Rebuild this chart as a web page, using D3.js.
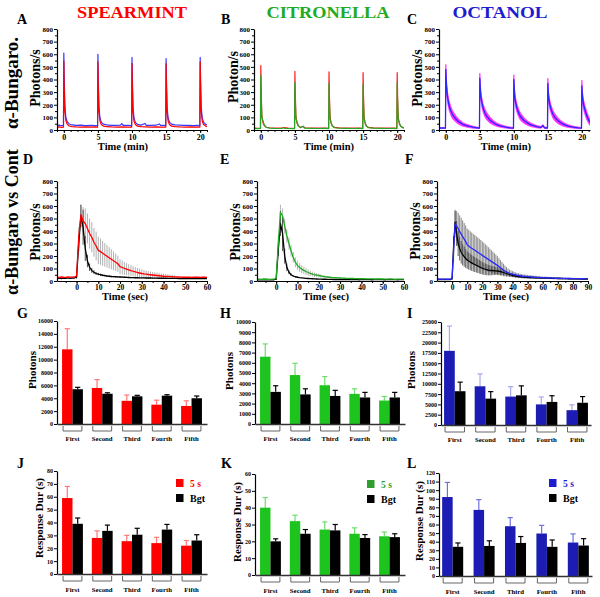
<!DOCTYPE html>
<html><head><meta charset="utf-8">
<script src="https://cdn.jsdelivr.net/npm/d3@7"></script>
<style>body{margin:0;background:#fff}</style>
</head><body><svg id="chart" width="600" height="597"></svg>
<script>
// ---------------- DATA ----------------
// Row 1 traces: [time (min), photons/s]
const aBlue=[[-1,35],[-0.7,38],[-0.4,34],[-0.05,36],[0,610],[0.06,420],[0.15,200],[0.3,100],[0.5,65],[0.8,48],[1.2,40],[1.8,36],[2.5,38],[3.2,35],[4,37],[4.6,34],[4.95,36],[5,600],[5.06,410],[5.15,190],[5.3,95],[5.5,62],[5.8,46],[6.3,40],[7,37],[7.6,36],[8.3,38],[8.5,50],[8.7,36],[9.4,37],[9.95,35],[10,575],[10.06,400],[10.15,180],[10.3,92],[10.5,60],[10.8,45],[11.3,39],[11.9,52],[12.1,37],[12.8,36],[13.5,38],[14,48],[14.2,36],[14.6,37],[14.95,35],[15,565],[15.06,390],[15.15,180],[15.3,95],[15.5,62],[15.8,47],[16.3,40],[17,38],[17.6,36],[18.3,37],[19,35],[19.5,36],[19.95,35],[20,575],[20.06,400],[20.15,185],[20.3,95],[20.5,62],[20.8,45],[21,40]];
const aRed=[[-1,22],[-0.6,24],[-0.3,21],[-0.05,23],[0,545],[0.06,330],[0.15,150],[0.3,75],[0.5,45],[0.8,32],[1.2,27],[1.8,24],[2.5,23],[3.2,25],[4,22],[4.6,24],[4.95,23],[5,540],[5.06,325],[5.15,145],[5.3,72],[5.5,44],[5.8,31],[6.3,26],[7,24],[7.8,23],[8.6,25],[9.4,22],[9.95,23],[10,525],[10.06,315],[10.15,140],[10.3,70],[10.5,43],[10.8,30],[11.3,26],[12,24],[12.8,22],[13.6,24],[14.4,23],[14.95,22],[15,525],[15.06,315],[15.15,140],[15.3,70],[15.5,43],[15.8,30],[16.3,26],[17,24],[17.8,23],[18.6,24],[19.4,22],[19.95,23],[20,540],[20.06,320],[20.15,145],[20.3,72],[20.5,44],[20.8,31],[21,27]];
const bRed=[[-1,16],[-0.5,14],[-0.05,15],[0,510],[0.06,300],[0.15,120],[0.3,60],[0.5,35],[0.8,22],[1.3,18],[2,16],[3,15],[3.5,20],[4,15],[4.95,14],[5,465],[5.06,280],[5.15,110],[5.3,55],[5.5,32],[5.8,22],[6.2,28],[6.5,18],[7.5,16],[8.5,15],[9.5,16],[9.95,14],[10,460],[10.06,275],[10.15,110],[10.3,55],[10.5,32],[10.8,21],[11.5,17],[12.5,16],[13.5,15],[14.5,16],[14.95,14],[15,455],[15.06,270],[15.15,105],[15.3,52],[15.5,30],[15.8,21],[16.5,17],[17.5,16],[18.5,15],[19.5,16],[19.95,14],[20,455],[20.06,270],[20.15,105],[20.3,52],[20.5,30],[20.8,21],[21,18]];
const bGreen=[[-1,13],[-0.5,11],[-0.05,12],[0,430],[0.06,250],[0.15,100],[0.3,75],[0.5,40],[0.8,20],[1.3,15],[2,13],[3,12],[3.3,18],[3.6,12],[4.95,11],[5,375],[5.06,220],[5.15,90],[5.3,65],[5.5,35],[5.8,18],[6.2,30],[6.4,15],[7.5,13],[8.5,12],[9.5,13],[9.95,11],[10,370],[10.06,215],[10.15,88],[10.3,60],[10.5,32],[10.8,18],[11.5,14],[12.5,13],[13.5,12],[14.5,13],[14.95,11],[15,360],[15.06,210],[15.15,85],[15.3,58],[15.5,30],[15.8,18],[16.5,15],[17.5,13],[18.5,12],[19.5,13],[19.95,11],[20,375],[20.06,220],[20.15,88],[20.3,60],[20.5,32],[20.8,18],[21,15]];
// Octanol: [time, mean, sem]
const cOct=[[-1,15,3],[-0.5,16,3],[-0.05,15,3],[0,480,40],[0.1,350,40],[0.25,260,40],[0.5,190,38],[0.75,150,35],[1,120,32],[1.5,85,25],[2,62,20],[2.5,45,15],[3,35,12],[3.5,28,10],[4,22,8],[4.5,18,6],[4.95,16,5],[5,410,40],[5.1,300,38],[5.25,230,36],[5.5,170,34],[5.75,135,32],[6,110,30],[6.5,78,24],[7,57,18],[7.5,42,14],[8,33,11],[8.5,26,9],[9,21,7],[9.5,17,6],[9.95,15,5],[10,400,38],[10.1,290,36],[10.25,220,35],[10.5,165,33],[10.75,130,31],[11,105,29],[11.5,75,23],[12,55,18],[12.5,41,14],[13,32,11],[13.5,25,9],[14,21,7],[14.3,35,8],[14.5,18,6],[14.95,16,5],[15,370,40],[15.1,270,36],[15.25,210,35],[15.5,160,33],[15.75,125,31],[16,102,29],[16.5,73,23],[17,53,18],[17.5,40,14],[18,31,11],[18.5,25,9],[19,20,7],[19.5,17,6],[19.95,15,5],[20,350,45],[20.1,260,40],[20.25,200,38],[20.5,150,36],[20.75,110,32],[21,80,28],[21.2,60,25]];

// Row 2: means sampled every 1 s starting at *_t0; sems start at t=0
const dT0=-9;
const dRedMean=[30,28,32,30,29,33,31,30,32, 40,350,530,480,460,420,380,350,310,280, 245,235,222,210,198,186,174,162,150,138, 115,108,101,95,89,83,78,73,68,64, 60,57,55,52,50,48,46,44,42,40, 38,37,36,35,34,33,32,32,31,30, 30,31,30,29,30,31,30,29,30,30,29];
const dRedSem=[20,80,80,110,120,120,120,120,115,115, 110,105,100,95,90,85,80,75,70,65, 60,56,52,48,45,42,40,38,36,34, 32,30,28,27,26,25,24,23,22,21, 20,19,18,17,16,15];
const dBlackMean=[22,24,20,23,22,25,21,23,24, 30,300,520,430,260,160,110,85,70,60, 55,50,46,43,40,38,36,35,34,33, 32,31,30,29,28,27,27,26,26,25, 25,25,24,24,24,23,23,23,22,22, 22,22,21,21,21,21,21,20,20,20, 20,21,20,19,20,20,21,20,19,20,20];
const dBlackSem=[10,60,90,140,100,50,30,20,15,12, 10,9,8,8,7,7,6,6,6,5, 5,5,5,5,5,4,4,4,4,4, 4,4,4,4,4,3,3,3,3,3, 3,3,3,3,3,3];
const eGreenMean=[14,15,13,16,14,15,13,14,15, 20,300,550,520,440,360,300,240,190,150, 125,108,95,85,76,68,61,55,50,47, 44,40,37,34,32,30,28,27,26,25, 24,23,22,21,21,20,20,19,19,18, 18,18,17,17,17,17,16,16,16,16, 16,15,15,16,15,15,14,15,15,15,15];
const eGreenSem=[10,60,60,60,60,55,50,45,42,40, 38,35,32,30,28,25,22,20,18,16, 14,12,10,9,8,7,6,5,5,4,4];
const eBlackMean=[10,11,9,10,12,10,9,11,10, 15,250,460,380,200,110,70,50,40,34, 30,27,25,23,21,20,19,18,17,16, 15,15,14,14,13,13,13,12,12,12, 12,12,12,11,11,11,12,11,11,10, 11,11,12,11,11,10,11,11,12,11, 11,10,11,11,12,11,11,10,11,11,11];
const eBlackSem=[5,50,100,140,60,30,15,10,8,6,5];
const fT0=-10;
const fBlueMean=[15,14,16,15,13,15,16,14,15,15, 20,250,460,440,420,395,375,355,335,315, 290,280,270,262,254,246,238,230,222,214, 205,197,189,181,173,165,157,149,141,133, 125,115,106,97,88,80,73,67,62,58, 55,52,49,46,44,42,40,38,37,36, 35,34,33,32,31,30,29,29,28,27, 26,26,25,25,24,24,23,23,23,22, 22,22,21,21,21,20,20,20,20,19, 19,19,19,18,18,18,18,18,17,17,17];
const fBlueSem=[10,100,110,120,125,130,130,130,130,130, 130,130,128,126,124,122,120,118,116,114, 112,110,106,102,98,94,90,86,82,78, 74,68,62,56,50,44,38,33,29,26, 24,22,20,19,18,17,16,15,15,14, 14,13,13,12,12,12,11,11,11,10, 10,10,10,9,9,9,9,9,8,8, 8,8,8,8,7,7,7,7,7,7, 7,7,6,6,6,6,6,6,6,6,6];
const fBlackMean=[12,13,11,12,14,12,11,13,12,12, 20,280,470,380,300,260,230,210,195,180, 168,160,152,145,138,132,126,120,114,108, 102,98,94,90,87,85,84,83,82,81, 80,78,75,72,68,64,60,56,52,48, 45,42,40,38,36,34,33,32,31,30, 29,28,28,27,27,26,26,25,25,24, 24,23,23,23,22,22,22,21,21,21, 20,20,20,19,19,19,19,18,18,18, 18,17,17,17,17,17,16,16,16,16,16];
const fBlackSem=[10,80,90,100,100,95,90,85,80,75, 70,68,66,64,62,60,58,56,54,52, 50,48,46,44,42,40,38,36,34,32, 30,28,26,24,22,20,18,16,15,14, 13,12,12,11,11,10,10,10,9,9, 9,9,8,8,8,8,8,7,7,7, 7,7,7,7,6,6,6,6,6,6, 6,6,6,6,5,5,5,5,5,5, 5,5,5,5,5,5,5,5,5,5,5];

// Rows 3-4: bar charts
const categories=["First","Second","Third","Fourth","Fifth"];
const gRed=[11600,5600,3600,3000,2800], gRedErr=[3200,1300,900,700,800];
const gBlack=[5400,4700,4300,4400,4000], gBlackErr=[300,150,150,150,350];
const hGreen=[6600,4800,3800,2950,2300], hGreenErr=[1250,1150,850,500,400];
const hBlack=[3150,2900,2750,2600,2600], hBlackErr=[600,550,550,500,500];
const iBlue=[18000,9400,6900,5000,3600], iBlueErr=[6000,3000,2400,1800,1300];
const iBlack=[8200,6400,7200,5600,5400], iBlackErr=[2200,1700,2300,1500,1500];
const jRed=[59,28,25.5,24,22], jRedErr=[9,5.5,4.5,4.5,4];
const jBlack=[39,33.5,30.5,34.5,26], jBlackErr=[4.5,4.5,5,4,4.5];
const kGreen=[40,32,27,24.5,23], kGreenErr=[6,3.5,4.5,3.5,2.5];
const kBlack=[20,24.5,26.5,22,22.5], kBlackErr=[1.5,2.5,3.5,2,2];
const lBlue=[92,77,58,49.5,39], lBlueErr=[17,12,10,9.5,10];
const lBlack=[34,35,38.5,34,35.5], lBlackErr=[4.5,6,7.5,8,8];
const legendLabels=["5 s","Bgt"];

// ---------------- DRAWING ----------------
const SERIF='"Liberation Serif","Times New Roman",serif';
const svg=d3.select('#chart');
svg.append('rect').attr('width',600).attr('height',597).attr('fill','#fff');

function txt(g,s,x,y,fs,fill,opts={}){
  const t=g.append('text').attr('x',x).attr('y',y).text(s)
    .attr('font-family',SERIF).attr('font-weight','bold').attr('font-size',fs).attr('fill',fill||'#000')
    .attr('text-anchor',opts.anchor||'start');
  if(opts.rot) t.attr('transform',`rotate(-90,${x},${y})`);
  if(opts.len) t.attr('textLength',opts.len).attr('lengthAdjust','spacingAndGlyphs');
  return t;
}
function styleAxis(sel,fs){
  sel.select('.domain').attr('stroke','#000').attr('stroke-width',1.2);
  sel.selectAll('.tick line').attr('stroke','#000');
  sel.selectAll('.tick text').attr('font-size',fs).attr('font-family',SERIF).attr('font-weight','bold').attr('fill','#000');
}
let clipN=0;
function tracePanel(o){
  const g=svg.append('g');
  const x=d3.scaleLinear().domain(o.xd).range(o.xr);
  const y=d3.scaleLinear().domain([0,800]).range(o.yr);
  const id='clp'+(clipN++);
  g.append('clipPath').attr('id',id).append('rect').attr('x',o.xr[0]).attr('y',o.yr[1]-10)
    .attr('width',o.xr[1]-o.xr[0]).attr('height',o.yr[0]-o.yr[1]+10);
  const plot=g.append('g').attr('clip-path',`url(#${id})`);
  o.draw(plot,x,y);
  g.append('g').attr('transform',`translate(${o.xr[0]},0)`)
    .call(d3.axisLeft(y).tickValues(d3.range(50,800,100)).tickSize(2).tickFormat(''))
    .call(s=>s.select('.domain').remove()).selectAll('line').attr('stroke','#000');
  const ya=g.append('g').attr('transform',`translate(${o.xr[0]},0)`)
    .call(d3.axisLeft(y).tickValues(d3.range(0,801,100)).tickSize(3).tickSizeOuter(0).tickPadding(1));
  styleAxis(ya,7);
  if(o.xminor) g.append('g').attr('transform',`translate(0,${o.yr[0]})`)
    .call(d3.axisBottom(x).tickValues(o.xminor).tickSize(2).tickFormat(''))
    .call(s=>s.select('.domain').remove()).selectAll('line').attr('stroke','#000');
  const xa=g.append('g').attr('transform',`translate(0,${o.yr[0]})`)
    .call(d3.axisBottom(x).tickValues(o.xt).tickSize(3).tickSizeOuter(0).tickPadding(1));
  styleAxis(xa,o.xfs||8);
}
function lineOf(plot,x,y,data,color,w){
  plot.append('path').datum(data).attr('fill','none').attr('stroke',color).attr('stroke-width',w||1.2)
    .attr('stroke-linejoin','round').attr('d',d3.line().x(d=>x(d[0])).y(d=>y(d[1])));
}
function seriesPts(mean,t0){return mean.map((v,i)=>[t0+i,v]);}
function errBars(plot,x,y,mean,t0,sem,color,w){
  const pts=sem.map((s,i)=>({t:i,m:mean[i-t0],s:s}));
  plot.append('g').selectAll('line').data(pts).join('line')
    .attr('x1',d=>x(d.t)).attr('x2',d=>x(d.t))
    .attr('y1',d=>y(Math.max(0,d.m-d.s))).attr('y2',d=>y(d.m+d.s))
    .attr('stroke',color).attr('stroke-width',w||0.9);
}

// Row 1
tracePanel({xd:[-1,21],xr:[57,207],yr:[130,29],xt:[0,5,10,15,20],xminor:d3.range(-1,22,1),
  draw:(p,x,y)=>{lineOf(p,x,y,aBlue,'#3838ff',1.2);lineOf(p,x,y,aRed,'#ff0000',1.2);}});
tracePanel({xd:[-1,21],xr:[254,404],yr:[130,29],xt:[0,5,10,15,20],xminor:d3.range(-1,22,1),
  draw:(p,x,y)=>{lineOf(p,x,y,bRed,'#ff2020',1.2);lineOf(p,x,y,bGreen,'#22a822',1.2);}});
tracePanel({xd:[-1,21.2],xr:[439,590],yr:[130,29],xt:[0,5,10,15,20],xminor:d3.range(-1,22,1),
  draw:(p,x,y)=>{
    p.append('path').datum(cOct).attr('fill','#ff30ff').attr('stroke','#ff30ff').attr('stroke-width',0.8)
      .attr('d',d3.area().x(d=>x(d[0])).y0(d=>y(d[1]-d[2])).y1(d=>y(d[1]+d[2])));
    lineOf(p,x,y,cOct.map(d=>[d[0],d[1]]),'#2828ff',1.3);
  }});

// Row 2
tracePanel({xd:[-9,60],xr:[57,207],yr:[281,181],xt:[0,10,20,30,40,50,60],xminor:d3.range(-5,61,5),xfs:7.5,
  draw:(p,x,y)=>{
    errBars(p,x,y,dRedMean,dT0,dRedSem,'#a8a8a8',0.9);
    errBars(p,x,y,dBlackMean,dT0,dBlackSem,'#404040',0.9);
    lineOf(p,x,y,seriesPts(dBlackMean,dT0),'#000',1.3);
    lineOf(p,x,y,seriesPts(dRedMean,dT0),'#ff0000',1.3);
  }});
tracePanel({xd:[-9,60],xr:[257,404],yr:[281,181],xt:[0,10,20,30,40,50,60],xminor:d3.range(-5,61,5),xfs:7.5,
  draw:(p,x,y)=>{
    errBars(p,x,y,eGreenMean,dT0,eGreenSem,'#ababab',0.9);
    errBars(p,x,y,eBlackMean,dT0,eBlackSem,'#404040',0.9);
    lineOf(p,x,y,seriesPts(eBlackMean,dT0),'#000',1.3);
    lineOf(p,x,y,seriesPts(eGreenMean,dT0),'#22aa22',1.3);
  }});
tracePanel({xd:[-10,90],xr:[437,588],yr:[281,181],xt:[0,10,20,30,40,50,60,70,80,90],xminor:d3.range(-5,91,5),xfs:7.5,
  draw:(p,x,y)=>{
    errBars(p,x,y,fBlueMean,fT0,fBlueSem,'#7a7a7a',0.9);
    errBars(p,x,y,fBlackMean,fT0,fBlackSem,'#4a4a4a',0.9);
    lineOf(p,x,y,seriesPts(fBlackMean,fT0),'#000',1.3);
    lineOf(p,x,y,seriesPts(fBlueMean,fT0),'#2a2aff',1.3);
  }});

// Bars
function barPanel(o){
  const g=svg.append('g');
  const x=d3.scaleBand().domain(categories).range(o.xr).paddingInner(o.pi).paddingOuter(o.po);
  const xs=d3.scaleBand().domain(['c','b']).range([0,x.bandwidth()]);
  const y=d3.scaleLinear().domain([0,o.ymax]).range(o.yr);
  const y0=y(0);
  const series=[{k:'c',v:o.cv,e:o.ce,fill:o.col,ec:o.ecol},{k:'b',v:o.bv,e:o.be,fill:'#000',ec:'#000'}];
  series.forEach(s=>{
    const d=categories.map((c,i)=>({c,v:s.v[i],e:s.e[i]}));
    const cx=dd=>x(dd.c)+xs(s.k)+xs.bandwidth()/2;
    g.append('g').selectAll('line').data(d).join('line')
      .attr('x1',cx).attr('x2',cx).attr('y1',dd=>y(dd.v)).attr('y2',dd=>y(dd.v+dd.e))
      .attr('stroke',s.ec).attr('stroke-width',1.2);
    g.append('g').selectAll('line').data(d).join('line')
      .attr('x1',dd=>cx(dd)-2.6).attr('x2',dd=>cx(dd)+2.6).attr('y1',dd=>y(dd.v+dd.e)).attr('y2',dd=>y(dd.v+dd.e))
      .attr('stroke',s.ec).attr('stroke-width',1.2);
    g.append('g').selectAll('rect').data(d).join('rect')
      .attr('x',dd=>x(dd.c)+xs(s.k)).attr('width',xs.bandwidth())
      .attr('y',dd=>y(dd.v)).attr('height',dd=>y0-y(dd.v)).attr('fill',s.fill);
  });
  const ya=g.append('g').attr('transform',`translate(${o.xr[0]},0)`)
    .call(d3.axisLeft(y).tickValues(d3.range(0,o.ymax+1,o.step)).tickSize(3).tickSizeOuter(0).tickPadding(1).tickFormat(d3.format('d')));
  styleAxis(ya,6);
  const xa=g.append('g').attr('transform',`translate(0,${y0})`)
    .call(d3.axisBottom(x).tickSize(0).tickSizeOuter(0).tickFormat(''));
  xa.select('.domain').attr('stroke','#333').attr('stroke-width',1.4);
  g.append('g').selectAll('path').data(categories).join('path')
    .attr('d',c=>`M${x(c)+1},${y0+2}V${y0+7}H${x(c)+x.bandwidth()-1}V${y0+2}`)
    .attr('fill','none').attr('stroke','#555').attr('stroke-width',0.9);
  g.append('g').selectAll('text').data(categories).join('text')
    .attr('x',c=>x(c)+x.bandwidth()/2).attr('y',y0+o.labDy).text(c=>c)
    .attr('text-anchor','middle').attr('font-family',SERIF).attr('font-weight','bold').attr('font-size',6.8);
  if(o.leg){
    const L=o.leg;
    [o.legCol,'#000'].forEach((c,i)=>{
      g.append('rect').attr('x',L[0]).attr('y',L[1]+i*15).attr('width',7.5).attr('height',8).attr('fill',c);
      txt(g,legendLabels[i],L[0]+14,L[1]+8+i*15,i===0?9.5:10,i===0?o.legTxt:'#000');
    });
  }
}
barPanel({xr:[57,207],pi:0.3,po:0.17,ymax:16000,step:2000,yr:[424,321],cv:gRed,ce:gRedErr,bv:gBlack,be:gBlackErr,col:'#ff0000',ecol:'#ff7878',labDy:17});
barPanel({xr:[255,405],pi:0.3,po:0.17,ymax:10000,step:1000,yr:[424,322],cv:hGreen,ce:hGreenErr,bv:hBlack,be:hBlackErr,col:'#1ec41e',ecol:'#6cdc6c',labDy:17});
barPanel({xr:[441,591],pi:0.3,po:0.1,ymax:25000,step:2500,yr:[425,322],cv:iBlue,ce:iBlueErr,bv:iBlack,be:iBlackErr,col:'#1c1cb4',ecol:'#a8a8ee',labDy:17});
barPanel({xr:[57,207],pi:0.3,po:0.17,ymax:80,step:10,yr:[574,471],cv:jRed,ce:jRedErr,bv:jBlack,be:jBlackErr,col:'#ff0000',ecol:'#ff7878',labDy:18,leg:[176,479],legCol:'#ff0000',legTxt:'#ff0000'});
barPanel({xr:[255,405],pi:0.3,po:0.17,ymax:60,step:10,yr:[575,474],cv:kGreen,ce:kGreenErr,bv:kBlack,be:kBlackErr,col:'#1ec41e',ecol:'#6cdc6c',labDy:18,leg:[367,480],legCol:'#2e9e2e',legTxt:'#2e9e2e'});
barPanel({xr:[439,592],pi:0.33,po:0.1,ymax:120,step:10,yr:[576,473],cv:lBlue,ce:lBlueErr,bv:lBlack,be:lBlackErr,col:'#1c1cb4',ecol:'#7070e0',labDy:18,leg:[549,479],legCol:'#1c1cd0',legTxt:'#1c1cd0'});

// Text labels
const T=svg.append('g');
txt(T,'SPEARMINT',132,18,16,'#ff0000',{anchor:'middle',len:110});
txt(T,'CITRONELLA',328,18,16,'#22aa22',{anchor:'middle',len:123});
txt(T,'OCTANOL',500,18,16,'#1c1cd0',{anchor:'middle',len:95});
[['A',17,24],['B',221,24],['C',407,24],['D',23,164],['E',220,164],['F',405,164],
 ['G',17,318],['H',220,318],['I',407,318],['J',17,468],['K',221,468],['L',407,468]]
 .forEach(d=>txt(T,d[0],d[1],d[2],14,'#000'));
txt(T,'α-Bungaro.',18,83,19,'#000',{anchor:'middle',rot:true});
txt(T,'α-Bungaro vs Cont',18,222,18,'#000',{anchor:'middle',rot:true});
txt(T,'Photons/s',40,78,14,'#000',{anchor:'middle',rot:true});
txt(T,'Photon/s',238,77,14,'#000',{anchor:'middle',rot:true});
txt(T,'Photons/s',422,78,14,'#000',{anchor:'middle',rot:true});
txt(T,'Photons/s',40,232,14,'#000',{anchor:'middle',rot:true});
txt(T,'Photons/s',240,232,14,'#000',{anchor:'middle',rot:true});
txt(T,'Photons/s',420,231,14,'#000',{anchor:'middle',rot:true});
txt(T,'Time (min)',123,150,10.5,'#000',{anchor:'middle'});
txt(T,'Time (min)',329,150,10.5,'#000',{anchor:'middle'});
txt(T,'Time (min)',506,150,10.5,'#000',{anchor:'middle'});
txt(T,'Time (sec)',125,300,10.5,'#000',{anchor:'middle'});
txt(T,'Time (sec)',326,300,10.5,'#000',{anchor:'middle'});
txt(T,'Time (sec)',506,300,10.5,'#000',{anchor:'middle'});
txt(T,'Photons',36,370,11,'#000',{anchor:'middle',rot:true});
txt(T,'Photons',233,371,11,'#000',{anchor:'middle',rot:true});
txt(T,'Photons',415,370,11,'#000',{anchor:'middle',rot:true});
txt(T,'Response Dur (s)',43,518,11,'#000',{anchor:'middle',rot:true});
txt(T,'Response Dur (s)',241,522,11,'#000',{anchor:'middle',rot:true});
txt(T,'Response Dur (s)',423,521,11,'#000',{anchor:'middle',rot:true});
</script></body></html>
